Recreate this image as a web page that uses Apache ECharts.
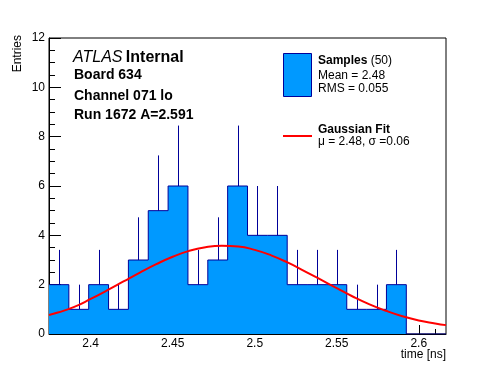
<!DOCTYPE html>
<html>
<head>
<meta charset="utf-8">
<script src="https://cdn.jsdelivr.net/npm/echarts@6/dist/echarts.min.js"></script>
<style>
html,body{margin:0;padding:0;background:#fff;}
#c{width:496px;height:372px;}
</style>
</head>
<body>
<div id="c"></div>
<script>
// ---- data ----
const binEdges = [2.3746, 2.3867, 2.3988, 2.4109, 2.4230, 2.4351, 2.4472, 2.4593, 2.4714, 2.4835,
                  2.4956, 2.5077, 2.5198, 2.5319, 2.5440, 2.5561, 2.5682, 2.5803, 2.5924, 2.6045, 2.6166];
const counts = [2, 1, 2, 1, 3, 5, 6, 2, 3, 6, 4, 4, 2, 2, 2, 1, 1, 2, 0, 0];
const errTop = [3.41, 2, 3.41, 2, 4.73, 7.24, 8.45, 3.41, 4.73, 8.45, 6, 6, 3.41, 3.41, 3.41, 2, 2, 3.41, 0, 0];
const fitX = [2.3746, 2.38, 2.39, 2.40, 2.41, 2.42, 2.43, 2.44, 2.45, 2.46, 2.47, 2.48, 2.49,
              2.50, 2.51, 2.52, 2.53, 2.54, 2.55, 2.56, 2.57, 2.58, 2.59, 2.60, 2.61, 2.6166];
const fitY = [0.77, 0.87, 1.10, 1.42, 1.77, 2.13, 2.49, 2.83, 3.13, 3.37, 3.52, 3.58, 3.55,
              3.41, 3.19, 2.90, 2.56, 2.21, 1.86, 1.51, 1.20, 0.94, 0.72, 0.55, 0.43, 0.36];
const xMajorTicks = [2.4, 2.45, 2.5, 2.55, 2.6];
const xMinorTicks = [2.38, 2.39, 2.41, 2.42, 2.43, 2.44, 2.46, 2.47, 2.48, 2.49, 2.51, 2.52, 2.53,
                     2.54, 2.56, 2.57, 2.58, 2.59, 2.61];
const yMin = 0, yMax = 12, yStep = 2;

// ---- build series data ----
const stepData = counts.map((c, i) => [binEdges[i], c]);
stepData.push([binEdges[binEdges.length - 1], counts[counts.length - 1]]);
const errData = counts.map((c, i) => [(binEdges[i] + binEdges[i + 1]) / 2, c, errTop[i]]).filter(d => d[1] > 0);
const fitData = fitX.map((x, i) => [x, fitY[i]]);

const FONT = 'Liberation Sans, Arial, Helvetica, sans-serif';
const chart = echarts.init(document.getElementById('c'), null, {renderer: 'canvas'});
const xMin = binEdges[0], xMax = binEdges[binEdges.length - 1];

chart.setOption({
  animation: false,
  backgroundColor: '#fff',
  grid: {left: 49, right: 50, top: 38, bottom: 38, show: true, borderColor: '#000', borderWidth: 1, backgroundColor: '#fff'},
  xAxis: [{
    type: 'value', min: xMin, max: xMax, position: 'bottom',
    axisLine: {show: true, lineStyle: {color: '#000', width: 1}},
    axisTick: {show: true, inside: true, length: 9, customValues: xMajorTicks, lineStyle: {color: '#000'}},
    axisLabel: {show: true, customValues: xMajorTicks, color: '#000', fontSize: 12, fontFamily: FONT, margin: 4},
    splitLine: {show: false}
  }, {
    type: 'value', min: xMin, max: xMax, position: 'bottom',
    axisLine: {show: false},
    axisTick: {show: true, inside: true, length: 5, customValues: xMinorTicks, lineStyle: {color: '#000'}},
    axisLabel: {show: false},
    splitLine: {show: false}
  }],
  yAxis: {
    type: 'value', min: yMin, max: yMax, interval: yStep,
    axisLine: {show: true, lineStyle: {color: '#000', width: 1}},
    axisTick: {show: true, inside: true, length: 12, lineStyle: {color: '#000'}},
    minorTick: {show: true, splitNumber: 4, length: 6, lineStyle: {color: '#000'}},
    axisLabel: {color: '#000', fontSize: 12, fontFamily: FONT, margin: 4},
    splitLine: {show: false}
  },
  series: [{
    type: 'line', xAxisIndex: 0, step: 'end', data: stepData,
    symbol: 'none', lineStyle: {color: '#000099', width: 1},
    areaStyle: {color: '#0099ff', opacity: 1}, z: 2
  }, {
    type: 'custom', xAxisIndex: 0, data: errData, z: 3,
    renderItem: function (params, api) {
      const p1 = api.coord([api.value(0), api.value(1)]);
      const p2 = api.coord([api.value(0), api.value(2)]);
      return {type: 'line', shape: {x1: Math.round(p1[0]) + 0.5, y1: p1[1], x2: Math.round(p2[0]) + 0.5, y2: p2[1]},
              style: {stroke: '#000099', lineWidth: 1}};
    }
  }, {
    type: 'line', xAxisIndex: 0, data: fitData, smooth: true, symbol: 'none',
    lineStyle: {color: '#ff0000', width: 2}, z: 4
  }],
  graphic: [
    {type: 'text', x: 18, y: 35, rotation: Math.PI / 2,
     style: {text: 'Entries', font: '12px ' + FONT, fill: '#000', align: 'right', verticalAlign: 'middle'}},
    {type: 'text', x: 446, y: 355,
     style: {text: 'time [ns]', font: '12px ' + FONT, fill: '#000', align: 'right', verticalAlign: 'middle'}},
    {type: 'text', x: 73, y: 57.5,
     style: {text: '{a|ATLAS} {b|Internal}', verticalAlign: 'middle', fill: '#000',
             rich: {a: {fontStyle: 'italic', fontSize: 16, fontFamily: FONT},
                    b: {fontWeight: 'bold', fontSize: 16, fontFamily: FONT}}}},
    {type: 'text', x: 74, y: 75,
     style: {text: 'Board 634', font: 'bold 14px ' + FONT, fill: '#000', verticalAlign: 'middle'}},
    {type: 'text', x: 74, y: 96,
     style: {text: 'Channel 071 lo', font: 'bold 14px ' + FONT, fill: '#000', verticalAlign: 'middle'}},
    {type: 'text', x: 74, y: 115,
     style: {text: 'Run 1672 A=2.591', font: 'bold 14px ' + FONT, fill: '#000', verticalAlign: 'middle'}},
    {type: 'rect', shape: {x: 283.5, y: 53.5, width: 28, height: 43},
     style: {fill: '#0099ff', stroke: '#000099', lineWidth: 1}},
    {type: 'text', x: 318, y: 60.5,
     style: {text: '{b|Samples} {n|(50)}', verticalAlign: 'middle', fill: '#000',
             rich: {b: {fontWeight: 'bold', fontSize: 12, fontFamily: FONT}, n: {fontSize: 12, fontFamily: FONT}}}},
    {type: 'text', x: 318, y: 75.5,
     style: {text: 'Mean = 2.48', font: '12px ' + FONT, fill: '#000', verticalAlign: 'middle'}},
    {type: 'text', x: 318, y: 89,
     style: {text: 'RMS = 0.055', font: '12px ' + FONT, fill: '#000', verticalAlign: 'middle'}},
    {type: 'line', shape: {x1: 283, y1: 136, x2: 312, y2: 136},
     style: {stroke: '#ff0000', lineWidth: 2}},
    {type: 'text', x: 318, y: 129.5,
     style: {text: 'Gaussian Fit', font: 'bold 12px ' + FONT, fill: '#000', verticalAlign: 'middle'}},
    {type: 'text', x: 318, y: 141.5,
     style: {text: 'μ = 2.48, σ =0.06', font: '12px ' + FONT, fill: '#000', verticalAlign: 'middle'}}
  ]
});
</script>
</body>
</html>
